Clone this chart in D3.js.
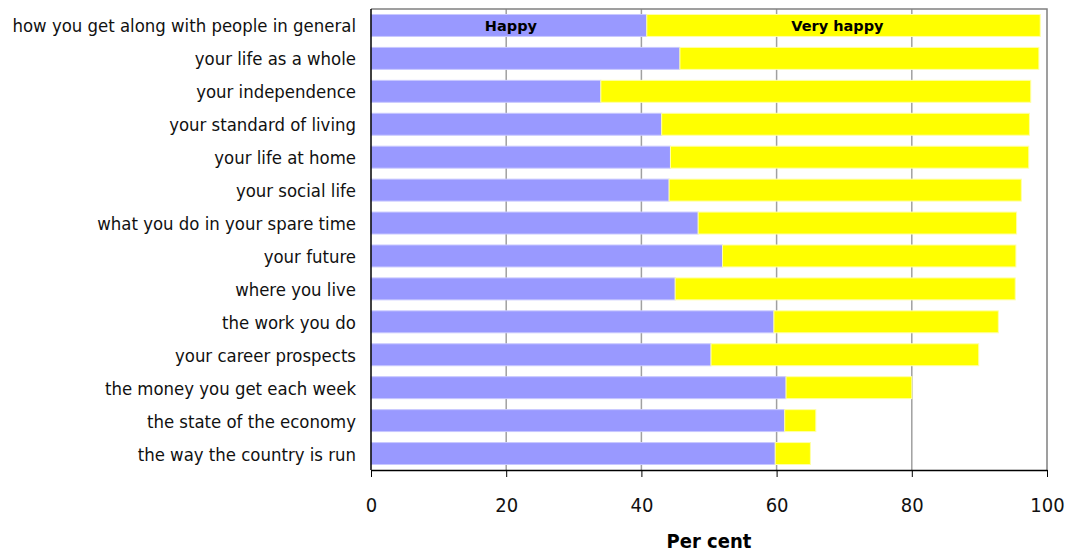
<!DOCTYPE html>
<html><head><meta charset="utf-8">
<script src="https://cdn.jsdelivr.net/npm/d3@7"></script>
<style>body{margin:0;background:#fff}</style>
</head><body>
<svg id="chart" width="1068" height="553"></svg>
<script>
const categories = [
  "how you get along with people in general",
  "your life as a whole",
  "your independence",
  "your standard of living",
  "your life at home ",
  "your social life",
  "what you do in your spare time",
  "your future",
  "where you live",
  "the work you do",
  "your career prospects",
  "the money you get each week",
  "the state of the economy",
  "the way the country is run"
];
const happy =     [40.8, 45.7, 34.0, 43.0, 44.3, 44.1, 48.4, 52.0, 45.0, 59.6, 50.3, 61.4, 61.2, 59.8];
const veryHappy = [58.2, 53.1, 63.6, 54.4, 53.0, 52.1, 47.1, 43.4, 50.3, 33.2, 39.6, 18.6,  4.6,  5.2];
const seriesNames = ["Happy", "Very happy"];
const xTicks = [0, 20, 40, 60, 80, 100];
const axisTitle = "Per cent";

(function () {
const svg = d3.select("#chart");
const pL = 371, pR = 1047, pT = 9, pB = 470;
const font = "Tahoma, 'DejaVu Sans', sans-serif";
const fontC = "'DejaVu Sans Condensed', Tahoma, 'DejaVu Sans', sans-serif";

const x = d3.scaleLinear().domain([0, 100]).range([pL, pR]);
const y = d3.scaleBand().domain(categories).range([pT, pB]).paddingInner(1/3).paddingOuter(1/6);

// gridlines
svg.append("g").selectAll("line").data(xTicks.filter(d => d > 0 && d < 100)).join("line")
  .attr("x1", d => x(d)).attr("x2", d => x(d)).attr("y1", pT).attr("y2", pB)
  .attr("stroke", "#a0a0a0").attr("stroke-width", 1.5);

// plot border (top/right)
svg.append("path").attr("d", `M${pL},${pT}H${pR}V${pB}`)
  .attr("fill", "none").attr("stroke", "#808080").attr("stroke-width", 1.5);

const rows = categories.map((c, i) => ({c, h: happy[i], v: veryHappy[i]}));
const g = svg.append("g");
g.selectAll("rect.h").data(rows).join("rect").attr("class", "h")
  .attr("x", x(0)).attr("y", d => y(d.c))
  .attr("width", d => x(d.h) - x(0)).attr("height", y.bandwidth())
  .attr("fill", "#9999ff").attr("stroke", "#c8c8ff").attr("stroke-width", 1);
g.selectAll("rect.v").data(rows).join("rect").attr("class", "v")
  .attr("x", d => x(d.h)).attr("y", d => y(d.c))
  .attr("width", d => x(d.h + d.v) - x(d.h)).attr("height", y.bandwidth())
  .attr("fill", "#ffff00").attr("stroke", "#ffffa8").attr("stroke-width", 1);

// series labels on the first row
const labelAt = [20.7, 69.0];
svg.append("g").selectAll("text").data(seriesNames).join("text")
  .attr("x", (d, i) => x(labelAt[i])).attr("y", y(categories[0]) + y.bandwidth() / 2)
  .attr("dy", "0.36em")
  .attr("text-anchor", "middle")
  .attr("font-family", font).attr("font-weight", "bold").attr("font-size", 14.5)
  .attr("fill", "#000").text(d => d);

// y axis
const yAxis = svg.append("g").attr("transform", `translate(${pL},0)`)
  .call(d3.axisLeft(y).tickSize(0).tickPadding(15));
yAxis.select(".domain").attr("d", `M0,${pT}V${pB}`).attr("stroke", "#000").attr("stroke-width", 1.5);
yAxis.selectAll("text").attr("font-family", fontC).attr("font-size", 18.4).attr("dy", "0.38em").attr("fill", "#111");

// x axis
const xAxis = svg.append("g").attr("transform", `translate(0,${pB})`)
  .call(d3.axisBottom(x).tickValues(xTicks).tickSize(7).tickPadding(21).tickSizeOuter(0));
xAxis.select(".domain").attr("stroke", "#000").attr("stroke-width", 1.5);
xAxis.selectAll(".tick line").attr("stroke", "#000");
xAxis.selectAll("text").attr("font-family", fontC).attr("font-size", 20).attr("fill", "#111");

svg.append("text").attr("x", (pL + pR) / 2).attr("y", 548)
  .attr("text-anchor", "middle")
  .attr("font-family", fontC).attr("font-weight", "bold").attr("font-size", 20)
  .text(axisTitle);
})();
</script>
</body></html>
